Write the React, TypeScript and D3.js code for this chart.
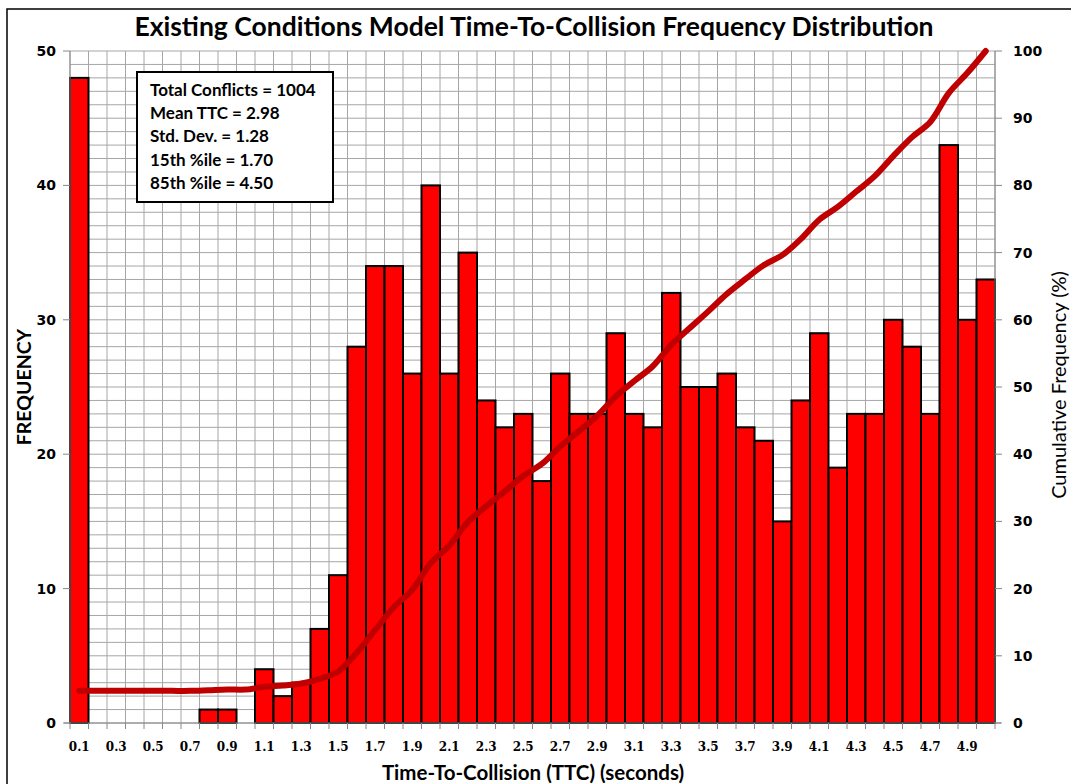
import React from "react";
import * as d3 from "d3";

const binLabels: number[] = [
  0.1, 0.2, 0.3, 0.4, 0.5, 0.6, 0.7, 0.8, 0.9, 1.0,
  1.1, 1.2, 1.3, 1.4, 1.5, 1.6, 1.7, 1.8, 1.9, 2.0,
  2.1, 2.2, 2.3, 2.4, 2.5, 2.6, 2.7, 2.8, 2.9, 3.0,
  3.1, 3.2, 3.3, 3.4, 3.5, 3.6, 3.7, 3.8, 3.9, 4.0,
  4.1, 4.2, 4.3, 4.4, 4.5, 4.6, 4.7, 4.8, 4.9, 5.0,
];
const frequency: number[] = [
  48, 0, 0, 0, 0, 0, 0, 1, 1, 0,
  4, 2, 3, 7, 11, 28, 34, 34, 26, 40,
  26, 35, 24, 22, 23, 18, 26, 23, 23, 29,
  23, 22, 32, 25, 25, 26, 22, 21, 15, 24,
  29, 19, 23, 23, 30, 28, 23, 43, 30, 33,
];
const leftTicks: number[] = [0, 10, 20, 30, 40, 50];
const rightTicks: number[] = [0, 10, 20, 30, 40, 50, 60, 70, 80, 90, 100];
const statLines: string[] = [
  "Total Conflicts = 1004",
  "Mean TTC = 2.98",
  "Std. Dev. = 1.28",
  "15th %ile = 1.70",
  "85th %ile = 4.50",
];
const title = "Existing Conditions Model Time-To-Collision Frequency Distribution";

const W = 1071, H = 784;
const L = 70, R = 995, T = 51, B = 723;
const FONT = "Lato, 'Open Sans', sans-serif";

export default function App() {
  const labels = binLabels.map((d) => d.toFixed(1));
  const x = d3.scaleBand<string>().domain(labels).range([L, R]).paddingInner(0).paddingOuter(0);
  const y = d3.scaleLinear().domain([0, 50]).range([B, T]);
  const yR = d3.scaleLinear().domain([0, 100]).range([B, T]);
  const total = d3.sum(frequency);
  const cum = Array.from(d3.cumsum(frequency)).map((c) => (c / total) * 100);
  const bw = x.bandwidth();
  const line = d3
    .line<number>()
    .x((_, i) => (x(labels[i]) as number) + bw / 2)
    .y((d) => yR(d))
    .curve(d3.curveCatmullRom.alpha(0.5));

  const hGrid = d3.range(0, 51, 1);
  const vGrid = d3.range(0, labels.length + 1).map((i) => L + i * bw);

  return (
    <svg width={W} height={H} style={{ position: "absolute", left: 0, top: 0, background: "#fff" }}>
      <rect x={0} y={0} width={W} height={H} fill="#fff" />
      <rect x={7} y={9} width={W + 20} height={H + 20} fill="none" stroke="#000" strokeWidth={1.5} />
      <text x={534} y={36} textAnchor="middle" fontFamily={FONT} fontSize={26.5} fontWeight={700} fill="#000">
        {title}
      </text>
      {/* grid */}
      {hGrid.map((v) => (
        <line key={"h" + v} x1={L} x2={R} y1={y(v)} y2={y(v)} stroke="#a6a6a6" strokeWidth={1} />
      ))}
      {vGrid.map((vx, i) => (
        <line key={"v" + i} x1={vx} x2={vx} y1={T} y2={B} stroke="#a6a6a6" strokeWidth={1} />
      ))}
      {/* bars */}
      {frequency.map((f, i) =>
        f > 0 ? (
          <rect
            key={"b" + i}
            x={x(labels[i]) as number}
            y={y(f)}
            width={bw}
            height={B - y(f)}
            fill="#ff0000"
            stroke="#000"
            strokeWidth={2}
          />
        ) : null
      )}
      {/* axes */}
      <line x1={L} x2={L} y1={T} y2={B} stroke="#888" strokeWidth={1} />
      <line x1={R} x2={R} y1={T} y2={B} stroke="#888" strokeWidth={1} />
      <line x1={L - 6} x2={R + 6} y1={B} y2={B} stroke="#888" strokeWidth={1} />
      {leftTicks.map((v) => (
        <g key={"lt" + v}>
          <line x1={L - 7} x2={L} y1={y(v)} y2={y(v)} stroke="#888" />
          <text x={56} y={y(v) + 5} textAnchor="end" fontFamily="'DejaVu Sans', Verdana, sans-serif" fontWeight={700} fontSize={14} fill="#000">
            {v}
          </text>
        </g>
      ))}
      {rightTicks.map((v) => (
        <g key={"rt" + v}>
          <line x1={R} x2={R + 7} y1={yR(v)} y2={yR(v)} stroke="#888" />
          <text x={1013} y={yR(v) + 5} textAnchor="start" fontFamily="'DejaVu Sans', Verdana, sans-serif" fontWeight={700} fontSize={14} fill="#000">
            {v}
          </text>
        </g>
      ))}
      {vGrid.map((vx, i) => (
        <line key={"xt" + i} x1={vx} x2={vx} y1={B} y2={B + 6} stroke="#888" />
      ))}
      {labels.map((lab, i) =>
        i % 2 === 0 ? (
          <text
            key={"xl" + i}
            x={(x(lab) as number) + bw / 2}
            y={751}
            textAnchor="middle"
            fontFamily="'DejaVu Serif', serif"
            fontWeight={700}
            fontSize={12}
            fill="#000"
          >
            {lab}
          </text>
        ) : null
      )}
      {/* cumulative line */}
      <path d={line(cum) as string} fill="none" stroke="#c00000" strokeWidth={6} strokeLinejoin="round" strokeLinecap="round" />
      {/* stats box */}
      <rect x={137} y={72} width={196} height={130} fill="#fff" stroke="#000" strokeWidth={2} />
      {statLines.map((s, i) => (
        <text key={"s" + i} x={150} y={96 + i * 23.2} fontFamily={FONT} fontWeight={700} fontSize={17} fill="#000">
          {s}
        </text>
      ))}
      {/* axis titles */}
      <text x={533} y={780} textAnchor="middle" fontFamily={FONT} fontWeight={700} fontSize={20.5} fill="#000">
        Time-To-Collision (TTC) (seconds)
      </text>
      <text transform="translate(31,387) rotate(-90)" textAnchor="middle" fontFamily={FONT} fontWeight={700} fontSize={19.5} fill="#000">
        FREQUENCY
      </text>
      <text transform="translate(1066,385) rotate(-90)" textAnchor="middle" fontFamily={FONT} fontSize={20} fill="#000">
        Cumulative Frequency (%)
      </text>
    </svg>
  );
}
